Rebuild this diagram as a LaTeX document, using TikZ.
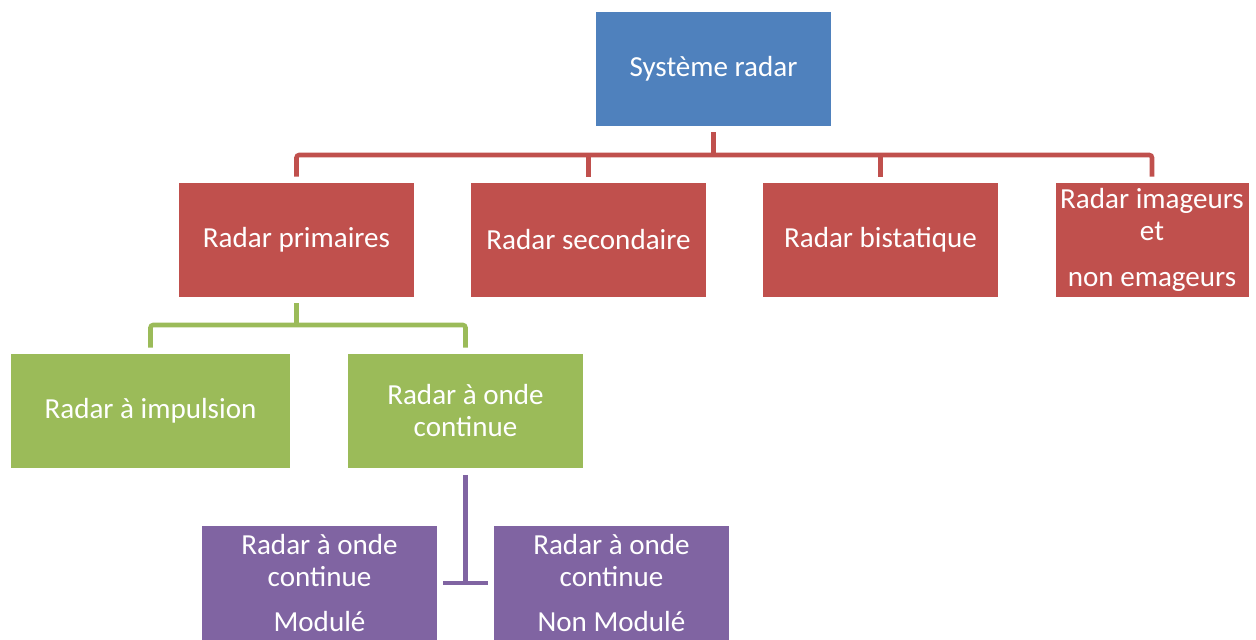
\documentclass[tikz,border=0pt]{standalone}
\usepackage{fontspec}
\setmainfont{Carlito}
\usetikzlibrary{positioning}
\definecolor{radarblue}{HTML}{4F81BD}
\definecolor{radarred}{HTML}{C0504D}
\definecolor{radargreen}{HTML}{9BBB59}
\definecolor{radarpurple}{HTML}{8064A2}
\tikzset{
  box/.style = {rectangle, text = white, align = center, inner sep = 0pt,
    minimum width = 176.25pt, minimum height = 85.5pt,
    font = \fontsize{21.8}{24}\selectfont},
  bluebox/.style = {box, fill = radarblue},
  redbox/.style = {box, fill = radarred},
  greenbox/.style = {box, fill = radargreen},
  purplebox/.style = {box, fill = radarpurple},
  link/.style = {line width = 3.4pt, rounded corners = 2pt},
  redline/.style = {link, draw = radarred},
  greenline/.style = {link, draw = radargreen},
  purpleline/.style = {link, draw = radarpurple, rounded corners = 0pt}
}

\begin{document}
\begin{tikzpicture}[x = 0.75pt, y = -0.75pt]
\useasboundingbox (0,0) rectangle (1256,639);

\node[bluebox] (sys) at (713.5,69) {Système radar};

\node[redbox] (prim) at (296.5,240) {Radar primaires};
\node[redbox] (sec) at (588.5,240) {Radar secondaire};
\node[redbox] (bist) at (880.5,240) {Radar bistatique};
\node[redbox, minimum width = 144.75pt] (imag) at (1152,240) {Radar imageurs\\et\\[10pt]non emageurs};

\node[greenbox, minimum width = 209.25pt] (imp) at (150.5,411) {Radar à impulsion};
\node[greenbox] (onde) at (465.5,411) {Radar à onde\\continue};

\begin{scope}
\clip (0,0) rectangle (1256,639);
\node[purplebox] (mod) at (319.5,583) {Radar à onde\\continue\\[10pt]Modulé};
\node[purplebox] (nmod) at (611.5,583) {Radar à onde\\continue\\[10pt]Non Modulé};
\end{scope}

% red bus
\coordinate (rbus) at (713.5,155);
\draw[redline, shorten < = 4.5pt, shorten > = 4.5pt] (prim.north) |- (rbus) -| (imag.north);
\draw[redline, shorten < = 4.5pt] (sys.south) -- (sys.south |- rbus);
\draw[redline, shorten < = 4.5pt] (sec.north) -- (sec.north |- rbus);
\draw[redline, shorten < = 4.5pt] (bist.north) -- (bist.north |- rbus);

% green bus
\coordinate (gbus) at (296.5,325);
\draw[greenline, shorten < = 4.5pt, shorten > = 4.5pt] (imp.north) |- (gbus) -| (onde.north);
\draw[greenline, shorten < = 4.5pt] (prim.south) -- (prim.south |- gbus);

% purple bar
\draw[purpleline, shorten < = 5pt] (onde.south) -- (onde.south |- mod.east);
\draw[purpleline, shorten < = 4.5pt, shorten > = 4.5pt] (mod.east) -- (nmod.west);

\end{tikzpicture}
\end{document}
